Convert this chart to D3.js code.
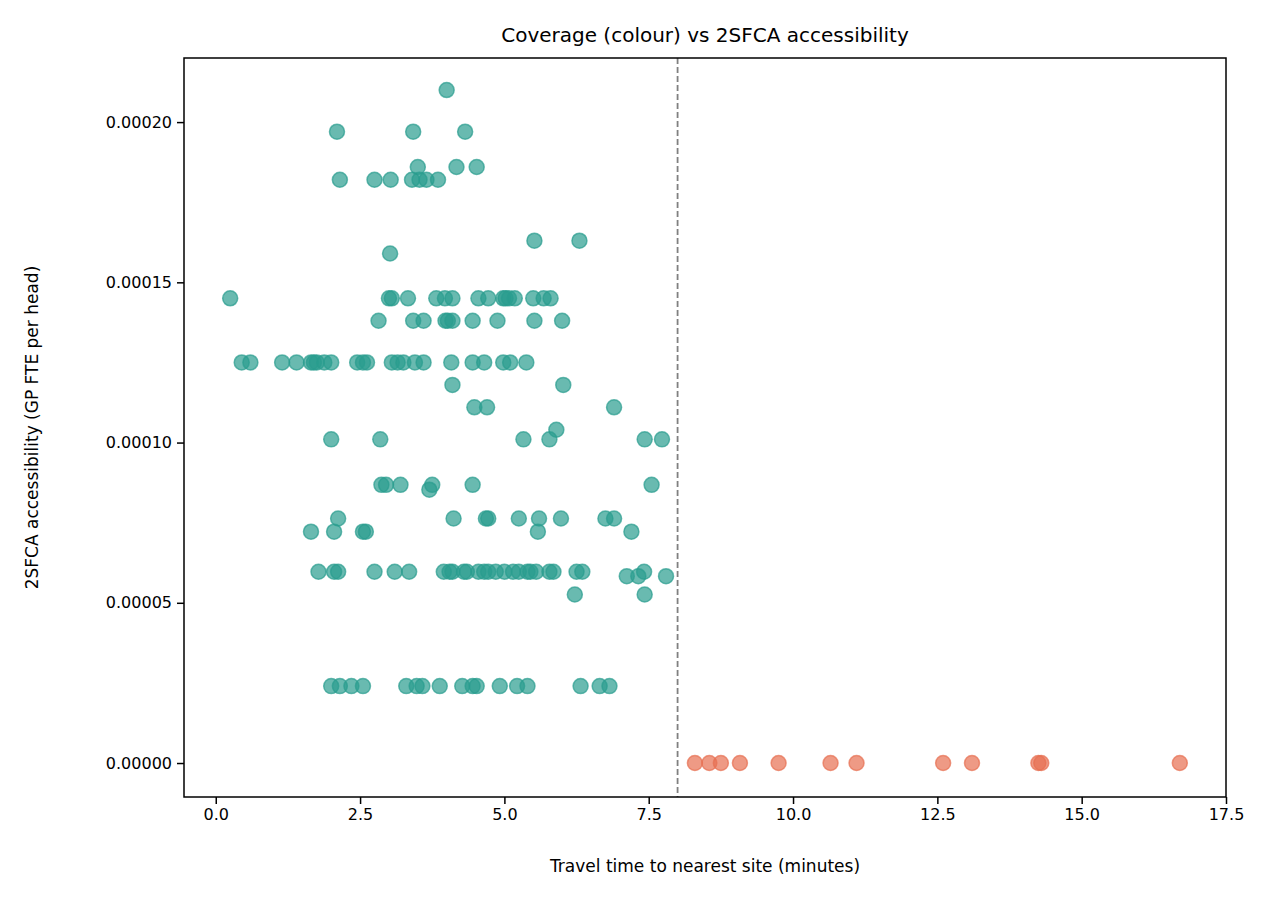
<!DOCTYPE html>
<html>
<head>
<meta charset="utf-8">
<script src="https://cdn.jsdelivr.net/npm/d3@7"></script>
<style>
  body { margin: 0; background: #fff; }
  svg { font-family: "DejaVu Sans", sans-serif; }
</style>
</head>
<body>
<div id="chart"></div>
<script>
// accessibility levels (GP FTE per head) and travel times (minutes) observed at each
var accessLevels = [0.000210, 0.000197, 0.000186, 0.000182, 0.000163, 0.000159, 0.000145, 0.000138,
  0.000125, 0.000118, 0.000111, 0.000104, 0.000101, 0.0000868, 0.0000853, 0.0000763, 0.0000722,
  0.0000597, 0.0000583, 0.0000526, 0.0000240, 0];
var timesAtLevel = [
  [4.0],
  [2.1, 3.42, 4.32],
  [3.5, 4.17, 4.52],
  [2.15, 2.75, 3.03, 3.4, 3.53, 3.65, 3.85],
  [5.52, 6.3],
  [3.02],
  [0.25, 3.0, 3.05, 3.33, 3.82, 3.97, 4.1, 4.55, 4.72, 4.98, 5.02, 5.08, 5.18, 5.5, 5.68, 5.8],
  [2.82, 3.42, 3.6, 3.98, 4.02, 4.1, 4.45, 4.88, 5.52, 6.0],
  [0.45, 0.6, 1.15, 1.4, 1.65, 1.7, 1.75, 1.88, 2.0, 2.45, 2.55, 2.62, 3.05, 3.15, 3.25, 3.45, 3.6, 4.08, 4.45, 4.65, 4.98, 5.1, 5.38],
  [4.1, 6.02],
  [4.48, 4.7, 6.9],
  [5.9],
  [2.0, 2.85, 5.33, 5.78, 7.43, 7.73],
  [2.87, 2.95, 3.2, 3.75, 4.45, 7.55],
  [3.7],
  [2.12, 4.12, 4.68, 4.72, 5.25, 5.6, 5.98, 6.75, 6.9],
  [1.65, 2.05, 2.55, 2.6, 5.58, 7.2],
  [1.78, 2.05, 2.12, 2.75, 3.1, 3.35, 3.95, 4.05, 4.1, 4.3, 4.35, 4.55, 4.65, 4.72, 4.85, 5.0, 5.15, 5.25, 5.4, 5.45, 5.55, 5.78, 5.85, 6.25, 6.35, 7.42],
  [7.12, 7.32, 7.8],
  [6.22, 7.43],
  [2.0, 2.15, 2.35, 2.55, 3.3, 3.48, 3.58, 3.88, 4.27, 4.45, 4.52, 4.92, 5.22, 5.4, 6.32, 6.65, 6.82],
  [8.3, 8.55, 8.75, 9.08, 9.75, 10.65, 11.1, 12.6, 13.1, 14.25, 14.3, 16.7]
];
var threshold = 8;
var xTicks = [0, 2.5, 5, 7.5, 10, 12.5, 15, 17.5];
var yTicks = [0, 0.00005, 0.0001, 0.00015, 0.0002];

var points = [];
accessLevels.forEach(function (a, i) {
  timesAtLevel[i].forEach(function (t) { points.push({ time: t, access: a }); });
});

var width = 1274, height = 898;
var plotLeft = 184, plotRight = 1226, plotTop = 58, plotBottom = 797;

var svg = d3.select("#chart").append("svg")
  .attr("width", width).attr("height", height);

var x = d3.scaleLinear().domain([-0.55, 17.5]).range([plotLeft, plotRight]);
var y = d3.scaleLinear().domain([-0.0000106, 0.00022]).range([plotBottom, plotTop]);

svg.append("line")
  .attr("x1", x(threshold)).attr("x2", x(threshold))
  .attr("y1", plotTop).attr("y2", plotBottom)
  .style("stroke", "#808080").style("stroke-width", 1.8)
  .style("stroke-dasharray", "6,3");

svg.append("g").selectAll("circle")
  .data(points)
  .enter()
  .append("circle")
  .attr("cx", function (d) { return x(d.time); })
  .attr("cy", function (d) { return y(d.access); })
  .attr("r", 7.5)
  .style("fill", function (d) { return d.time > threshold ? "#e76f51" : "#2a9d8f"; })
  .style("fill-opacity", 0.7)
  .style("stroke", function (d) { return d.time > threshold ? "#e76f51" : "#2a9d8f"; })
  .style("stroke-opacity", 0.7)
  .style("stroke-width", 1.5);

svg.append("rect")
  .attr("x", plotLeft).attr("y", plotTop)
  .attr("width", plotRight - plotLeft).attr("height", plotBottom - plotTop)
  .style("fill", "none").style("stroke", "black").style("stroke-width", 1.5);

var xAxis = svg.append("g")
  .attr("transform", "translate(0," + plotBottom + ")")
  .call(d3.axisBottom(x).tickValues(xTicks).tickFormat(d3.format(".1f")).tickSize(7).tickPadding(5));
var yAxis = svg.append("g")
  .attr("transform", "translate(" + plotLeft + ",0)")
  .call(d3.axisLeft(y).tickValues(yTicks).tickFormat(d3.format(".5f")).tickSize(7).tickPadding(5));

[xAxis, yAxis].forEach(function (g) {
  g.select(".domain").remove();
  g.selectAll("line").style("stroke-width", 1.5);
  g.selectAll("text").style("font-size", "16px").style("font-family", "DejaVu Sans").style("fill", "black");
});

svg.append("text")
  .attr("x", (plotLeft + plotRight) / 2).attr("y", 42)
  .attr("text-anchor", "middle").style("font-size", "20px")
  .text("Coverage (colour) vs 2SFCA accessibility");

svg.append("text")
  .attr("x", (plotLeft + plotRight) / 2).attr("y", 872)
  .attr("text-anchor", "middle").style("font-size", "17px")
  .text("Travel time to nearest site (minutes)");

svg.append("text")
  .attr("transform", "translate(38," + (plotTop + plotBottom) / 2 + ") rotate(-90)")
  .attr("text-anchor", "middle").style("font-size", "17px")
  .text("2SFCA accessibility (GP FTE per head)");
</script>
</body>
</html>
